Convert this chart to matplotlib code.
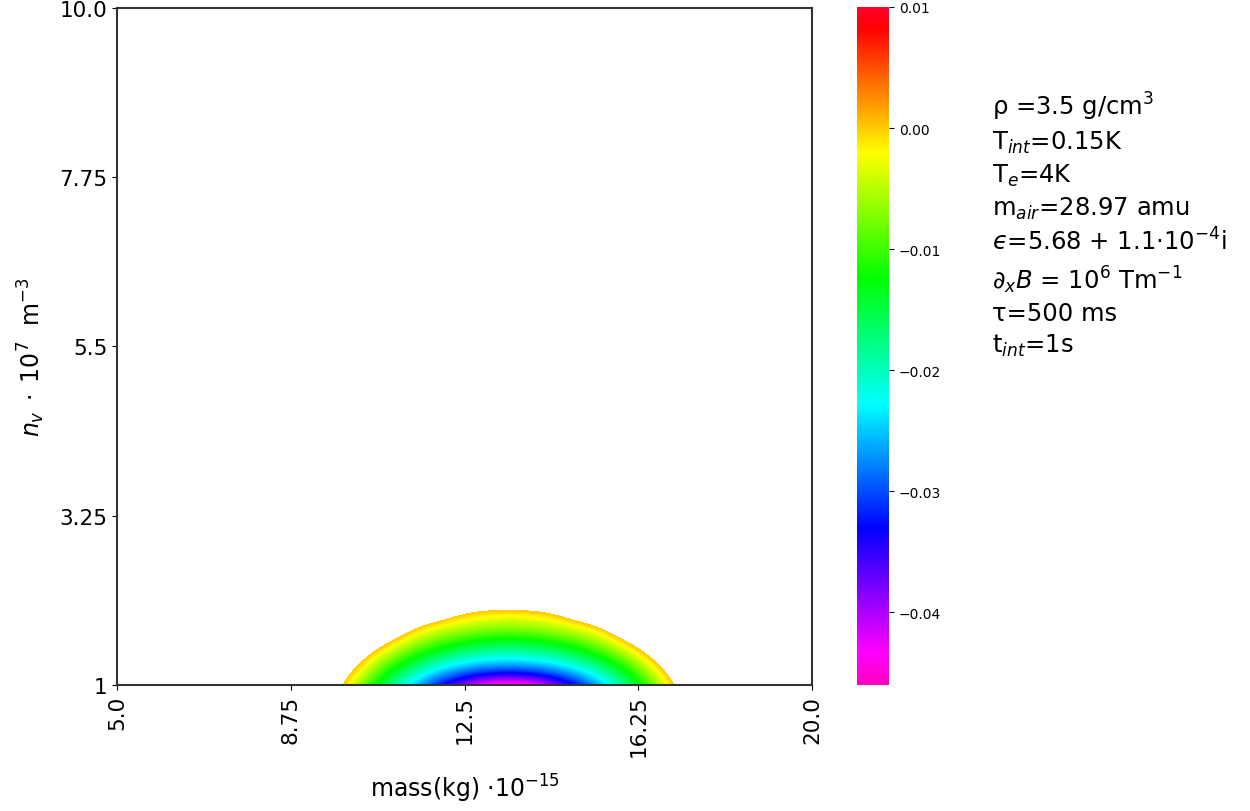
import numpy as np
import matplotlib
matplotlib.use("Agg")
import matplotlib.pyplot as plt
import matplotlib.tri as mtri
from matplotlib.cm import ScalarMappable
from matplotlib.colors import Normalize

# grid of values (mass in 1e-15 kg, n_v in 1e7 m^-3)
masses = [9.45, 9.95, 10.45, 10.95, 11.45, 11.95, 12.45, 12.95, 13.45,
          13.95, 14.45, 14.95, 15.45, 15.95, 16.45, 16.95, 17.45]
n_v = [1.0, 1.25, 1.5, 1.75, 2.0, 2.25]
row_100 = [0.0075, -0.0013, -0.0105, -0.0185, -0.0255, -0.0325, -0.039, -0.0445, -0.046,
           -0.0445, -0.039, -0.0325, -0.0255, -0.0185, -0.0105, -0.0013, 0.0075]
row_125 = [0.011, 0.0037, -0.0041, -0.0113, -0.0171, -0.0218, -0.0251, -0.0272, -0.0279,
           -0.0272, -0.0251, -0.0218, -0.0171, -0.0113, -0.0041, 0.0037, 0.011]
row_150 = [0.0165, 0.0099, 0.0030, -0.0030, -0.0082, -0.0121, -0.0148, -0.0165, -0.0171,
           -0.0165, -0.0148, -0.0121, -0.0082, -0.0030, 0.0030, 0.0099, 0.0165]
row_175 = [0.022, 0.016, 0.0104, 0.0053, 0.0002, -0.0033, -0.0056, -0.0070, -0.0076,
           -0.0070, -0.0056, -0.0033, 0.0002, 0.0053, 0.0104, 0.016, 0.022]
row_200 = [0.028, 0.022, 0.017, 0.012, 0.0084, 0.0053, 0.0022, 0.0006, 0.0002,
           0.0006, 0.0022, 0.0053, 0.0084, 0.012, 0.017, 0.022, 0.028]
row_225 = [0.033, 0.028, 0.023, 0.019, 0.0155, 0.0125, 0.0105, 0.0095, 0.009,
           0.0095, 0.0105, 0.0125, 0.0155, 0.019, 0.023, 0.028, 0.033]

vmin, vmax = -0.046, 0.01
xticks = [5.0, 8.75, 12.5, 16.25, 20.0]
xticklabels = ["5.0", "8.75", "12.5", "16.25", "20.0"]
yticks = [1, 3.25, 5.5, 7.75, 10.0]
yticklabels = ["1", "3.25", "5.5", "7.75", "10.0"]

params = [
    r"ρ =3.5 g/cm$^3$",
    r"T$_{int}$=0.15K",
    r"T$_e$=4K",
    r"m$_{air}$=28.97 amu",
    "$\u03f5$=5.68 + 1.1$\\cdot$10$^{-4}$i",
    r"$\partial_x B$ = 10$^6$ Tm$^{-1}$",
    r"τ=500 ms",
    r"t$_{int}$=1s",
]

Z = np.array([row_100, row_125, row_150, row_175, row_200, row_225])
M, N = np.meshgrid(masses, n_v)

fig = plt.figure(figsize=(12.5, 8.12), dpi=100)
ax = fig.add_axes([0.0936, 0.1552, 0.556, 0.8337])
cax = fig.add_axes([0.6856, 0.1552, 0.0256, 0.8350])

cmap = plt.get_cmap("gist_rainbow_r")
norm = Normalize(vmin=vmin, vmax=vmax)

# regular triangles on the rectangular grid
ny, nx = Z.shape
idx = np.arange(ny * nx).reshape(ny, nx)
tris = []
for j in range(ny - 1):
    for i in range(nx - 1):
        a, b, c, d = idx[j, i], idx[j, i + 1], idx[j + 1, i], idx[j + 1, i + 1]
        if i < nx // 2:
            tris += [[a, b, d], [a, d, c]]
        else:
            tris += [[a, b, c], [b, d, c]]
tri = mtri.Triangulation(M.ravel(), N.ravel(), triangles=tris)
interp = mtri.CubicTriInterpolator(tri, Z.ravel(), kind="min_E")
tri_f, z_f = mtri.UniformTriRefiner(tri).refine_field(Z.ravel(), triinterpolator=interp, subdiv=4)
levels = np.linspace(vmin, 0.0, 120)
ax.tricontourf(tri_f, z_f, levels=levels, cmap=cmap, norm=norm)

ax.set_xlim(5, 20)
ax.set_ylim(1, 10)
ax.set_xticks(xticks)
ax.set_xticklabels(xticklabels, rotation=90, fontsize=15.5)
ax.set_yticks(yticks)
ax.set_yticklabels(yticklabels, fontsize=15.5)
ax.set_xlabel(r"mass(kg) $\cdot 10^{-15}$", fontsize=17, labelpad=11)
ax.set_ylabel(r"$n_v\;\cdot\;10^7$  m$^{-3}$", fontsize=17)
ax.yaxis.set_label_coords(-0.1007, 0.486)
for s in ax.spines.values():
    s.set_linewidth(1.5)
    s.set_color("#333333")

cb = fig.colorbar(ScalarMappable(norm=norm, cmap=cmap), cax=cax)
cb.set_ticks([0.01, 0.0, -0.01, -0.02, -0.03, -0.04])
cb.ax.tick_params(labelsize=10)
cb.outline.set_visible(False)

fig.text(0.7935, 0.888, "\n".join(params), fontsize=17.5, va="top", ha="left",
         linespacing=1.33)

fig.savefig("out.png", dpi=100)
